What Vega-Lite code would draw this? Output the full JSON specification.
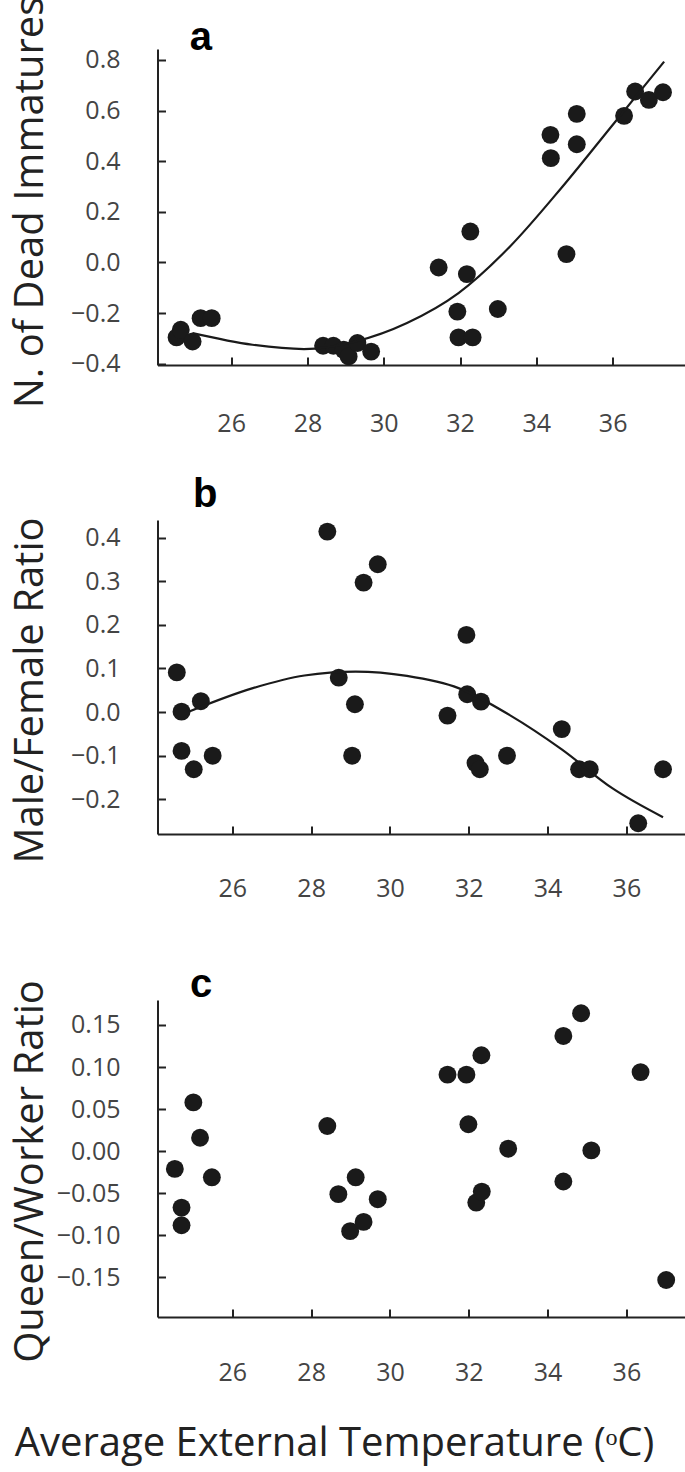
{
  "$schema": "https://vega.github.io/schema/vega-lite/v6.json",
  "autosize": {"type": "none"},
  "padding": {"left": 157.5, "top": 49, "right": 527.5, "bottom": 1423},
  "background": "white",
  "config": {
    "view": {"stroke": null},
    "font": "Open Sans",
    "axis": {
      "grid": false,
      "domainColor": "#222222",
      "domainWidth": 2,
      "tickColor": "#222222",
      "tickWidth": 2,
      "tickSize": -8,
      "labelFont": "Open Sans",
      "labelColor": "#444444",
      "labelFontSize": 25,
      "titleFont": "Open Sans",
      "titleFontWeight": "normal",
      "titleColor": "#222222",
      "titleFontSize": 40
    }
  },
  "datasets": {
    "a_pts": [
      {"temp": 24.57, "value": -0.296}, {"temp": 24.68, "value": -0.266}, {"temp": 24.99, "value": -0.312},
      {"temp": 25.20, "value": -0.220}, {"temp": 25.49, "value": -0.220}, {"temp": 28.41, "value": -0.329},
      {"temp": 28.68, "value": -0.329}, {"temp": 28.95, "value": -0.345}, {"temp": 29.08, "value": -0.371},
      {"temp": 29.31, "value": -0.318}, {"temp": 29.67, "value": -0.352}, {"temp": 31.44, "value": -0.020},
      {"temp": 31.93, "value": -0.194}, {"temp": 31.96, "value": -0.296}, {"temp": 32.18, "value": -0.046},
      {"temp": 32.27, "value": 0.122}, {"temp": 32.33, "value": -0.296}, {"temp": 32.99, "value": -0.184},
      {"temp": 34.37, "value": 0.504}, {"temp": 34.38, "value": 0.412}, {"temp": 34.79, "value": 0.033},
      {"temp": 35.06, "value": 0.587}, {"temp": 35.06, "value": 0.467}, {"temp": 36.30, "value": 0.579},
      {"temp": 36.59, "value": 0.675}, {"temp": 36.95, "value": 0.642}, {"temp": 37.32, "value": 0.672}
    ],
    "a_fit": [
      {"temp": 24.99, "value": -0.279}, {"temp": 26.56, "value": -0.325}, {"temp": 27.91, "value": -0.342},
      {"temp": 29.26, "value": -0.312}, {"temp": 30.61, "value": -0.239}, {"temp": 31.96, "value": -0.121},
      {"temp": 33.31, "value": 0.063}, {"temp": 34.65, "value": 0.293}, {"temp": 36.00, "value": 0.543},
      {"temp": 37.35, "value": 0.793}
    ],
    "b_pts": [
      {"temp": 24.59, "value": 0.091}, {"temp": 24.71, "value": 0.001}, {"temp": 24.71, "value": -0.089},
      {"temp": 25.02, "value": -0.131}, {"temp": 25.20, "value": 0.025}, {"temp": 25.50, "value": -0.100},
      {"temp": 28.41, "value": 0.414}, {"temp": 28.70, "value": 0.079}, {"temp": 29.04, "value": -0.100},
      {"temp": 29.11, "value": 0.018}, {"temp": 29.33, "value": 0.297}, {"temp": 29.69, "value": 0.339},
      {"temp": 31.46, "value": -0.008}, {"temp": 31.94, "value": 0.177}, {"temp": 31.96, "value": 0.041},
      {"temp": 32.31, "value": 0.024}, {"temp": 32.17, "value": -0.117}, {"temp": 32.28, "value": -0.131},
      {"temp": 32.97, "value": -0.100}, {"temp": 34.36, "value": -0.039}, {"temp": 34.80, "value": -0.131},
      {"temp": 35.07, "value": -0.131}, {"temp": 36.30, "value": -0.255}, {"temp": 36.93, "value": -0.131}
    ],
    "b_fit": [
      {"temp": 24.89, "value": 0.001}, {"temp": 26.52, "value": 0.055}, {"temp": 27.83, "value": 0.084},
      {"temp": 29.13, "value": 0.093}, {"temp": 30.43, "value": 0.083}, {"temp": 31.74, "value": 0.055},
      {"temp": 33.04, "value": -0.007}, {"temp": 34.35, "value": -0.085}, {"temp": 35.65, "value": -0.175},
      {"temp": 36.93, "value": -0.241}
    ],
    "c_pts": [
      {"temp": 24.54, "value": -0.021}, {"temp": 24.71, "value": -0.067}, {"temp": 24.71, "value": -0.088},
      {"temp": 25.01, "value": 0.058}, {"temp": 25.18, "value": 0.016}, {"temp": 25.48, "value": -0.031},
      {"temp": 28.41, "value": 0.030}, {"temp": 28.69, "value": -0.051}, {"temp": 28.99, "value": -0.095},
      {"temp": 29.13, "value": -0.031}, {"temp": 29.33, "value": -0.084}, {"temp": 29.69, "value": -0.057},
      {"temp": 31.46, "value": 0.091}, {"temp": 31.94, "value": 0.091}, {"temp": 31.99, "value": 0.032},
      {"temp": 32.32, "value": 0.114}, {"temp": 32.19, "value": -0.061}, {"temp": 32.33, "value": -0.048},
      {"temp": 33.00, "value": 0.003}, {"temp": 34.40, "value": 0.137}, {"temp": 34.40, "value": -0.036},
      {"temp": 34.85, "value": 0.164}, {"temp": 35.11, "value": 0.001}, {"temp": 36.36, "value": 0.094},
      {"temp": 37.01, "value": -0.153}
    ]
  },
  "spacing": 155,
  "bounds": "flush",
  "vconcat": [
    {
      "width": 528,
      "height": 316,
      "layer": [
        {
          "data": {"name": "a_pts"},
          "mark": {"type": "circle", "size": 320, "color": "#1a1a1a", "opacity": 1},
          "encoding": {
            "x": {"field": "temp", "type": "quantitative",
                  "scale": {"domain": [24.07, 37.91], "nice": false, "zero": false},
                  "axis": {"values": [26, 28, 30, 32, 34, 36], "format": "d", "title": null, "labelPadding": 54}},
            "y": {"field": "value", "type": "quantitative",
                  "scale": {"domain": [-0.405, 0.843], "nice": false, "zero": false},
                  "axis": {"values": [-0.4, -0.2, 0, 0.2, 0.4, 0.6, 0.8], "format": ".1f", "labelPadding": 45.5,
                           "title": "N. of Dead Immatures", "titleX": -115.5, "titleY": 153,
                           "titleAlign": "center", "titleBaseline": "alphabetic", "titleAngle": 270}}
          }
        },
        {
          "data": {"name": "a_fit"},
          "mark": {"type": "line", "color": "#1a1a1a", "strokeWidth": 2.2, "interpolate": "monotone"},
          "encoding": {
            "x": {"field": "temp", "type": "quantitative"},
            "y": {"field": "value", "type": "quantitative"}
          }
        },
        {
          "data": {"values": [{"panel": "a"}]},
          "mark": {"type": "text", "font": "Liberation Sans", "fontWeight": "bold", "fontSize": 40,
                   "align": "center", "baseline": "alphabetic", "color": "#000000"},
          "encoding": {
            "text": {"field": "panel", "type": "nominal"},
            "x": {"datum": 25.21, "type": "quantitative"},
            "y": {"datum": 0.8395, "type": "quantitative"}
          }
        }
      ]
    },
    {
      "spacing": 166,
      "bounds": "flush",
      "vconcat": [
        {
          "width": 528,
          "height": 314,
          "layer": [
            {
              "data": {"name": "b_pts"},
              "mark": {"type": "circle", "size": 320, "color": "#1a1a1a", "opacity": 1},
              "encoding": {
                "x": {"field": "temp", "type": "quantitative",
                      "scale": {"domain": [24.10, 37.50], "nice": false, "zero": false},
                      "axis": {"values": [26, 28, 30, 32, 34, 36], "format": "d", "title": null, "labelPadding": 50}},
                "y": {"field": "value", "type": "quantitative",
                      "scale": {"domain": [-0.2796, 0.4406], "nice": false, "zero": false},
                      "axis": {"values": [-0.2, -0.1, 0, 0.1, 0.2, 0.3, 0.4], "format": ".1f", "labelPadding": 45.5,
                               "title": "Male/Female Ratio", "titleX": -115.5, "titleY": 170,
                               "titleAlign": "center", "titleBaseline": "alphabetic", "titleAngle": 270}}
              }
            },
            {
              "data": {"name": "b_fit"},
              "mark": {"type": "line", "color": "#1a1a1a", "strokeWidth": 2.2, "interpolate": "monotone"},
              "encoding": {
                "x": {"field": "temp", "type": "quantitative"},
                "y": {"field": "value", "type": "quantitative"}
              }
            },
            {
              "data": {"values": [{"panel": "b"}]},
              "mark": {"type": "text", "font": "Liberation Sans", "fontWeight": "bold", "fontSize": 40,
                       "align": "center", "baseline": "alphabetic", "color": "#000000"},
              "encoding": {
                "text": {"field": "panel", "type": "nominal"},
                "x": {"datum": 25.31, "type": "quantitative"},
                "y": {"datum": 0.4704, "type": "quantitative"}
              }
            }
          ]
        },
        {
          "width": 528,
          "height": 317,
          "layer": [
            {
              "data": {"name": "c_pts"},
              "mark": {"type": "circle", "size": 320, "color": "#1a1a1a", "opacity": 1},
              "encoding": {
                "x": {"field": "temp", "type": "quantitative",
                      "scale": {"domain": [24.10, 37.50], "nice": false, "zero": false},
                      "axis": {"values": [26, 28, 30, 32, 34, 36], "format": "d", "labelPadding": 51,
                               "title": "Average External Temperature (ᵒC)", "titleX": 176.5, "titleY": 138,
                               "titleAlign": "center", "titleBaseline": "alphabetic"}},
                "y": {"field": "value", "type": "quantitative",
                      "scale": {"domain": [-0.197, 0.1797], "nice": false, "zero": false},
                      "axis": {"values": [-0.15, -0.1, -0.05, 0, 0.05, 0.1, 0.15], "format": ".2f", "labelPadding": 45.5,
                               "title": "Queen/Worker Ratio", "titleX": -115.5, "titleY": 171,
                               "titleAlign": "center", "titleBaseline": "alphabetic", "titleAngle": 270}}
              }
            },
            {
              "data": {"values": [{"panel": "c"}]},
              "mark": {"type": "text", "font": "Liberation Sans", "fontWeight": "bold", "fontSize": 40,
                       "align": "center", "baseline": "alphabetic", "color": "#000000"},
              "encoding": {
                "text": {"field": "panel", "type": "nominal"},
                "x": {"datum": 25.21, "type": "quantitative"},
                "y": {"datum": 0.1833, "type": "quantitative"}
              }
            }
          ]
        }
      ]
    }
  ]
}
